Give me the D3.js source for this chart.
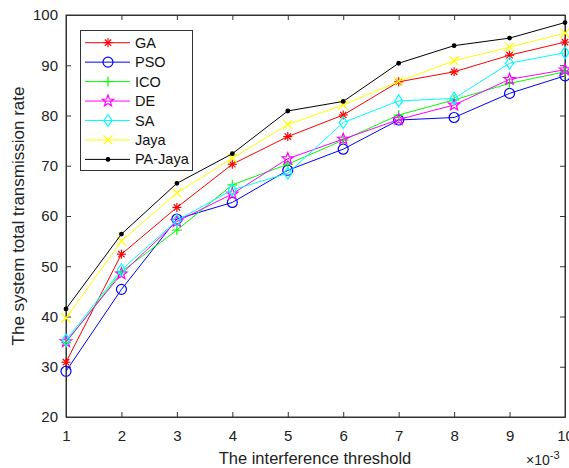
<!DOCTYPE html>
<html><head><meta charset="utf-8">
<script src="https://cdn.jsdelivr.net/npm/d3@7/dist/d3.min.js"></script>
<style>body{margin:0;background:#fff}svg{display:block}text{font-family:"Liberation Sans",Arial,sans-serif}</style>
</head><body>
<svg id="c" width="569" height="468"></svg>
<script>
const xValues = [1,2,3,4,5,6,7,8,9,10];
const seriesNames = ["GA","PSO","ICO","DE","SA","Jaya","PA-Jaya"];
const GA     = [30.9, 52.4, 61.7, 70.3, 75.8, 80.1, 86.7, 88.7, 92.0, 94.6];
const PSO    = [29.1, 45.4, 59.4, 62.7, 69.1, 73.3, 79.1, 79.6, 84.4, 87.9];
const ICO    = [34.8, 48.9, 57.2, 66.2, 70.3, 75.1, 80.1, 83.1, 86.4, 88.7];
const DE     = [35.0, 48.5, 58.9, 64.4, 71.4, 75.3, 79.2, 82.1, 87.2, 89.1];
const SA     = [35.3, 49.3, 59.1, 65.2, 68.5, 78.6, 82.9, 83.4, 90.4, 92.5];
const Jaya   = [39.7, 55.0, 64.6, 71.5, 78.2, 82.1, 86.8, 90.9, 93.6, 96.4];
const PAJaya = [41.5, 56.4, 66.5, 72.4, 80.9, 82.8, 90.4, 93.9, 95.4, 98.5];
const yTicks = [20,30,40,50,60,70,80,90,100];
const xTicks = [1,2,3,4,5,6,7,8,9,10];
const xLabel = "The interference threshold";
const yLabel = "The system total transmission rate";

const series = [
  {name:"GA", values:GA, color:"#ff0000", marker:"asterisk"},
  {name:"PSO", values:PSO, color:"#0000ff", marker:"circle"},
  {name:"ICO", values:ICO, color:"#00ff00", marker:"plus"},
  {name:"DE", values:DE, color:"#ff00ff", marker:"star"},
  {name:"SA", values:SA, color:"#00ffff", marker:"diamond"},
  {name:"Jaya", values:Jaya, color:"#ffff00", marker:"cross"},
  {name:"PA-Jaya", values:PAJaya, color:"#000000", marker:"dot"}
];

const svg = d3.select("#c");
const L=66, R=565, T=15, B=417;
const x = d3.scaleLinear().domain([1,10]).range([L,R]);
const y = d3.scaleLinear().domain([20,100]).range([B,T]);
const axisColor = "#333";

svg.append("rect").attr("x",L).attr("y",T).attr("width",R-L).attr("height",B-T)
  .attr("fill","#fff").attr("stroke",axisColor).attr("stroke-width",1);

const gx = svg.append("g").attr("transform",`translate(0,${B})`)
  .call(d3.axisBottom(x).tickValues(xTicks).tickSizeInner(-5).tickSizeOuter(0).tickPadding(13).tickFormat(d3.format("d")));
const gy = svg.append("g").attr("transform",`translate(${L},0)`)
  .call(d3.axisLeft(y).tickValues(yTicks).tickSizeInner(-5).tickSizeOuter(0).tickPadding(8));
const gxt = svg.append("g").attr("transform",`translate(0,${T})`)
  .call(d3.axisTop(x).tickValues(xTicks).tickSizeInner(-5).tickSizeOuter(0).tickFormat(""));
const gyr = svg.append("g").attr("transform",`translate(${R},0)`)
  .call(d3.axisRight(y).tickValues(yTicks).tickSizeInner(-5).tickSizeOuter(0).tickFormat(""));
[gx,gy,gxt,gyr].forEach(g=>{
  g.select(".domain").attr("stroke",axisColor);
  g.selectAll(".tick line").attr("stroke",axisColor);
  g.selectAll(".tick text").attr("fill","#222").style("font-size","15px").style("font-family","Liberation Sans, Arial, sans-serif");
});

function drawMarker(g, type, color, cx, cy){
  const s = g.append("g").attr("transform",`translate(${cx},${cy})`)
    .attr("fill","none").attr("stroke",color).attr("stroke-width",1.2);
  if(type==="circle"){ s.append("circle").attr("r",5); }
  else if(type==="asterisk"){
    const r=4.5;
    for(let a=0;a<180;a+=45){const t=a*Math.PI/180;
      s.append("line").attr("x1",-r*Math.cos(t)).attr("y1",-r*Math.sin(t)).attr("x2",r*Math.cos(t)).attr("y2",r*Math.sin(t));}
  }
  else if(type==="plus"){ const r=5;
    s.append("line").attr("x1",-r).attr("x2",r).attr("y1",0).attr("y2",0);
    s.append("line").attr("x1",0).attr("x2",0).attr("y1",-r).attr("y2",r);}
  else if(type==="cross"){ const r=4.5;
    s.append("line").attr("x1",-r).attr("y1",-r).attr("x2",r).attr("y2",r);
    s.append("line").attr("x1",-r).attr("y1",r).attr("x2",r).attr("y2",-r);}
  else if(type==="diamond"){ s.append("path").attr("d","M0,-6L4,0L0,6L-4,0Z"); }
  else if(type==="star"){
    const pts=[]; const ro=6, ri=2.5;
    for(let i=0;i<10;i++){const r=i%2?ri:ro; const t=-Math.PI/2+i*Math.PI/5; pts.push([r*Math.cos(t), r*Math.sin(t)]);}
    s.append("path").attr("d","M"+pts.map(p=>p.join(",")).join("L")+"Z");
  }
  else if(type==="dot"){ s.append("circle").attr("r",1.8).attr("fill",color); }
}

const line = d3.line().x((d,i)=>x(xValues[i])).y(d=>y(d));
series.forEach(s=>{
  const g = svg.append("g");
  g.append("path").datum(s.values).attr("d",line).attr("fill","none").attr("stroke",s.color).attr("stroke-width",1);
  s.values.forEach((v,i)=>drawMarker(g, s.marker, s.color, x(xValues[i]), y(v)));
});

const lg = svg.append("g");
lg.append("rect").attr("x",80.5).attr("y",30.5).attr("width",112).attr("height",140)
  .attr("fill","#fff").attr("stroke",axisColor).attr("stroke-width",1);
series.forEach((s,i)=>{
  const yy = 42.7 + i*19.45;
  lg.append("line").attr("x1",85).attr("x2",130).attr("y1",yy).attr("y2",yy).attr("stroke",s.color).attr("stroke-width",1);
  drawMarker(lg, s.marker, s.color, 108, yy);
  lg.append("text").attr("x",135).attr("y",yy+5).text(s.name).style("font-size","14.5px").attr("fill","#111");
});

svg.append("text").attr("x",315).attr("y",464).attr("text-anchor","middle").style("font-size","16.5px").attr("fill","#222").text(xLabel);
svg.append("text").attr("transform",`translate(24,216) rotate(-90)`).attr("text-anchor","middle").style("font-size","17px").attr("fill","#222").text(yLabel);
const ex = svg.append("text").attr("x",526).attr("y",465).style("font-size","14px").attr("fill","#222");
ex.append("tspan").text("×10");
ex.append("tspan").attr("dy",-6).style("font-size","11px").text("-3");
</script>
</body></html>
